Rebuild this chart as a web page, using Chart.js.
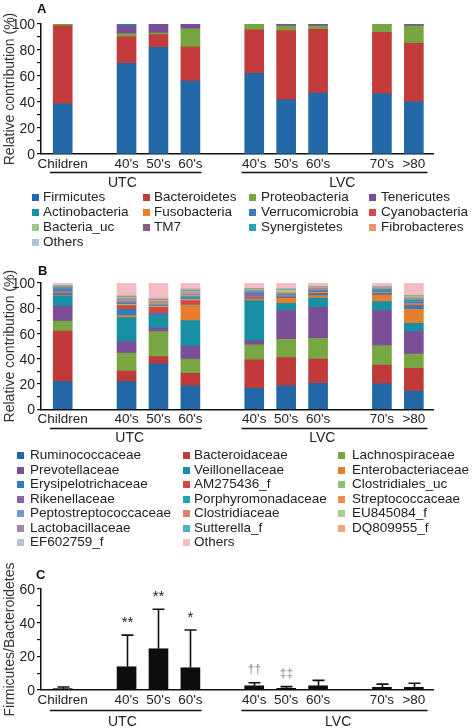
<!DOCTYPE html>
<html>
<head>
<meta charset="utf-8">
<script src="https://cdn.jsdelivr.net/npm/chart.js@4/dist/chart.umd.min.js"></script>
<style>
  body { margin: 0; width: 472px; height: 728px; position: relative; background: #fff; overflow: hidden;
         font-family: 'Liberation Sans', Arial, Helvetica, sans-serif; color: #222; }
  canvas { position: absolute; left: 0; }
  .panel { position: absolute; font-weight: bold; font-size: 13px; color: #111; z-index: 3; }
  .leg { position: absolute; font-size: 13.5px; line-height: 18px; white-space: nowrap; }
  .leg i { position: absolute; width: 7px; height: 7px; top: 6px; }
  .ytick { position: absolute; left: 0; font-size: 14px; line-height: 18px; text-align: right; color: #222; z-index: 5; }
</style>
</head>
<body>
<canvas id="chartA" width="472" height="192" style="top:0"></canvas>
<canvas id="chartB" width="472" height="192" style="top:255px"></canvas>
<canvas id="chartC" width="472" height="168" style="top:560px"></canvas>
<div class="panel" style="left:37px;top:1px">A</div>
<div class="panel" style="left:38px;top:263px">B</div>
<div class="panel" style="left:36px;top:567px">C</div>
<div id="legA"></div>
<div id="legB"></div>
<div id="yticks"></div>
<script>
// categories (empty strings are the spacer slots between groups)
const xLabels = ['Children', '', "40's", "50's", "60's", '', "40's", "50's", "60's", '', "70's", '>80'];
const groupNames = ['UTC', 'LVC'];
const groupSpans = [[-0.4, 4.35], [5.6, 11.43]];

// Panel A: phylum level (%)
const firmicutes      = [38.6, null, 69.7, 82.0, 56.0, null, 62.0, 41.6, 46.8, null, 46.3, 40.1];
const bacteroidetes   = [59.9, null, 20.5,  9.8, 26.3, null, 33.6, 53.3, 49.1, null, 47.3, 45.0];
const proteobacteria  = [ 1.5, null,  2.3,  1.3, 14.1, null,  4.4,  3.6,  2.6, null,  6.4, 13.4];
const tenericutes     = [ 0.0, null,  6.0,  6.9,  3.6, null,  0.0,  1.5,  1.5, null,  0.0,  1.0];
const actinobacteria  = [ 0.0, null,  0.5,  0.0,  0.0, null,  0.0,  0.0,  0.0, null,  0.0,  0.0];
const fusobacteria    = [ 0.0, null,  0.0,  0.0,  0.0, null,  0.0,  0.0,  0.0, null,  0.0,  0.0];
const verrucomicrobia = [ 0.0, null,  1.0,  0.0,  0.0, null,  0.0,  0.0,  0.0, null,  0.0,  0.0];
const cyanobacteria   = [ 0.0, null,  0.0,  0.0,  0.0, null,  0.0,  0.0,  0.0, null,  0.0,  0.0];
const bacteriaUc      = [ 0.0, null,  0.0,  0.0,  0.0, null,  0.0,  0.0,  0.0, null,  0.0,  0.0];
const tm7             = [ 0.0, null,  0.0,  0.0,  0.0, null,  0.0,  0.0,  0.0, null,  0.0,  0.0];
const synergistetes   = [ 0.0, null,  0.0,  0.0,  0.0, null,  0.0,  0.0,  0.0, null,  0.0,  0.0];
const fibrobacteres   = [ 0.0, null,  0.0,  0.0,  0.0, null,  0.0,  0.0,  0.0, null,  0.0,  0.0];
const phylaOthers     = [ 0.0, null,  0.0,  0.0,  0.0, null,  0.0,  0.0,  0.0, null,  0.0,  0.5];

const phylaNames = ['Firmicutes', 'Bacteroidetes', 'Proteobacteria', 'Tenericutes', 'Actinobacteria',
  'Fusobacteria', 'Verrucomicrobia', 'Cyanobacteria', 'Bacteria_uc', 'TM7', 'Synergistetes', 'Fibrobacteres', 'Others'];
const phylaValues = [firmicutes, bacteroidetes, proteobacteria, tenericutes, actinobacteria, fusobacteria,
  verrucomicrobia, cyanobacteria, bacteriaUc, tm7, synergistetes, fibrobacteres, phylaOthers];
const phylaColors = ['#2369a8', '#c23c3b', '#76a541', '#7a4e96', '#1a90a6', '#e7812f',
  '#3a7db6', '#d44a48', '#9cc68a', '#8a5b8c', '#2aa3ba', '#ef946a', '#a9c3d6'];

// Panel B: family level (%)
const ruminococcaceae     = [21.9, null, 21.9, 36.1, 18.5, null, 16.6, 18.5, 20.6, null, 20.1, 14.5];
const bacteroidaceae      = [40.1, null,  8.4,  5.6, 10.0, null, 22.5, 22.4, 19.2, null, 15.0, 18.0];
const lachnospiraceae     = [ 7.9, null, 14.3, 19.8, 11.3, null, 11.9, 14.5, 16.4, null, 15.3, 11.3];
const prevotellaceae      = [11.9, null,  9.0,  3.1, 10.3, null,  3.4, 22.7, 24.5, null, 27.7, 17.7];
const veillonellaceae     = [ 7.9, null, 19.0,  8.8, 20.1, null, 31.4,  5.9,  7.3, null,  7.2,  6.6];
const enterobacteriaceae  = [ 0.5, null,  1.6,  0.3, 12.4, null,  1.6,  3.9,  2.0, null,  5.2, 11.1];
const erysipelotrichaceae = [ 1.5, null,  5.0,  2.3,  0.4, null,  0.6,  0.8,  1.0, null,  1.0,  2.5];
const am275436f           = [ 0.6, null,  2.9,  4.8,  3.0, null,  0.4,  0.5,  0.8, null,  0.6,  1.0];
const clostridialesUc     = [ 0.5, null,  1.0,  0.8,  1.0, null,  0.5,  0.7,  0.6, null,  0.6,  0.8];
const rikenellaceae       = [ 2.0, null,  0.8,  0.6,  1.0, null,  3.0,  0.8,  1.2, null,  0.8,  1.2];
const porphyromonadaceae  = [ 1.5, null,  1.2,  0.5,  1.2, null,  1.2,  0.5,  0.8, null,  1.4,  2.0];
const streptococcaceae    = [ 0.3, null,  1.0,  1.2,  1.0, null,  0.4,  0.4,  0.5, null,  0.5,  0.6];
const peptostreptococcaceae = [0.4, null, 1.0,  0.8,  1.5, null,  0.5,  0.4,  0.6, null,  0.5,  0.6];
const clostridiaceae      = [ 0.3, null,  0.8,  1.0,  0.8, null,  0.3,  0.4,  0.5, null,  0.3,  0.3];
const eu845084f           = [ 0.2, null,  0.6,  0.5,  0.6, null,  0.5,  2.0,  0.4, null,  0.3,  1.0];
const lactobacillaceae    = [ 0.2, null,  0.6,  0.7,  0.8, null,  0.4,  0.3,  0.3, null,  0.2,  0.4];
const sutterellaF         = [ 0.3, null,  0.4,  0.3,  0.5, null,  0.3,  0.4,  0.2, null,  0.2,  0.3];
const dq809955f           = [ 0.1, null,  0.5,  0.4,  0.7, null,  0.2,  0.3,  0.2, null,  0.1,  0.2];
const ef602759f           = [ 0.2, null,  0.5,  0.3,  0.7, null,  0.1,  0.4,  0.2, null,  0.1,  0.4];
const familyOthers        = [ 1.7, null,  9.5, 12.1,  4.2, null,  4.2,  4.2,  2.7, null,  2.9,  9.5];

const familyNames = ['Ruminococcaceae', 'Bacteroidaceae', 'Lachnospiraceae', 'Prevotellaceae', 'Veillonellaceae',
  'Enterobacteriaceae', 'Erysipelotrichaceae', 'AM275436_f', 'Clostridiales_uc', 'Rikenellaceae',
  'Porphyromonadaceae', 'Streptococcaceae', 'Peptostreptococcaceae', 'Clostridiaceae', 'EU845084_f',
  'Lactobacillaceae', 'Sutterella_f', 'DQ809955_f', 'EF602759_f', 'Others'];
const familyValues = [ruminococcaceae, bacteroidaceae, lachnospiraceae, prevotellaceae, veillonellaceae,
  enterobacteriaceae, erysipelotrichaceae, am275436f, clostridialesUc, rikenellaceae, porphyromonadaceae,
  streptococcaceae, peptostreptococcaceae, clostridiaceae, eu845084f, lactobacillaceae, sutterellaF,
  dq809955f, ef602759f, familyOthers];
const familyColors = ['#2268a7', '#c13a3a', '#77a643', '#7a4f97', '#178fa4', '#e67e2d', '#2f7dbb', '#d8473f',
  '#8dbf74', '#8a64a8', '#22a2b6', '#ee8a52', '#6f9dcc', '#e08073', '#a7cc8b', '#9c8ba5', '#4bb5c8',
  '#f2a37d', '#b1c5d7', '#f3bcc3'];

// Panel C: Firmicutes/Bacteroidetes ratio, mean and upper SD
const fbRatio = [0.8, null, 13.8, 24.5, 13.2, null, 2.5, 1.0, 2.5, null, 1.6, 1.6];
const fbSD    = [1.0, null, 18.8, 23.5, 22.4, null, 1.8, 1.0, 3.2, null, 1.9, 2.4];
const fbSig   = ['', '', '**', '**', '*', '', '\u2020\u2020', '\u2021\u2021', '', '', '', ''];

const FONT = "'Liberation Sans', Arial, Helvetica, sans-serif";
Chart.defaults.font.family = FONT;
Chart.defaults.font.size = 13.5;
Chart.defaults.color = '#222';

const toPoints = arr => arr.map((v, i) => ({ x: i, y: v })).filter(p => p.y !== null);

// underline + group name below the x axis
const groupPlugin = {
  id: 'groups',
  afterDraw(chart, args, opts) {
    const { ctx } = chart;
    const xs = chart.scales.x;
    const bottom = chart.chartArea.bottom;
    ctx.save();
    ctx.strokeStyle = '#111';
    ctx.lineWidth = 1.3;
    ctx.fillStyle = '#222';
    ctx.font = '14px ' + FONT;
    ctx.textAlign = 'center';
    ctx.textBaseline = 'middle';
    groupSpans.forEach((sp, g) => {
      const y = Math.round(bottom + opts.lineOffset) + 0.5;
      ctx.beginPath();
      ctx.moveTo(xs.getPixelForValue(sp[0]), y);
      ctx.lineTo(xs.getPixelForValue(sp[1]), y);
      ctx.stroke();
      ctx.fillText(groupNames[g], xs.getPixelForValue(opts.labelAt[g]), bottom + opts.textOffset);
    });
    ctx.restore();
  }
};

function makeOptions(canvasH, top, bottom, yMax, yTitle, groupOpts) {
  const yTicks = [];
  for (let v = 0; v <= yMax; v += 10) yTicks.push({ value: v });
  return {
    responsive: false,
    animation: false,
    layout: { padding: { top: top, right: 39, left: 0, bottom: 0 } },
    plugins: { legend: { display: false }, tooltip: { enabled: false }, groups: groupOpts },
    scales: {
      x: {
        type: 'linear', stacked: true, min: -0.68, max: 11.6, offset: false,
        afterBuildTicks: s => { s.ticks = xLabels.map((l, i) => ({ value: i })); },
        afterFit: s => { s.height = canvasH - bottom; s.paddingLeft = 0; s.paddingRight = 0; },
        ticks: { callback: v => xLabels[v] ?? '', maxRotation: 0, autoSkip: false, padding: 2, color: '#222' },
        grid: { display: false, drawTicks: false },
        border: { color: '#111', width: 1.5 }
      },
      y: {
        stacked: true, min: 0, max: yMax,
        afterBuildTicks: s => { s.ticks = yTicks.slice(); },
        afterFit: s => { s.width = 41; s.paddingTop = 0; s.paddingBottom = 0; },
        // labels are placed as HTML from this scale's ticks (see addYLabels)
        ticks: { callback: v => (v % 20 === 0 ? String(v) : ''), autoSkip: false, padding: 2, font: { size: 14 }, color: 'rgba(0,0,0,0)' },
        grid: { drawOnChartArea: false, drawTicks: true, tickLength: 4, color: '#111', lineWidth: 1.2 },
        border: { color: '#111', width: 1.5 },
        title: { display: true, text: yTitle, font: { size: 14 }, color: '#333', padding: { top: 2, bottom: 0 } }
      }
    }
  };
}

// series that are zero everywhere only appear in the legend
function stackDatasets(names, values, colors) {
  return names.map((n, k) => ({
    label: n,
    data: toPoints(values[k]),
    backgroundColor: colors[k],
    borderWidth: 0,
    barThickness: 19
  })).filter(ds => ds.data.some(p => p.y > 0));
}

const chartA = new Chart(document.getElementById('chartA'), {
  type: 'bar',
  data: { datasets: stackDatasets(phylaNames, phylaValues, phylaColors) },
  options: makeOptions(192, 24, 154, 100, 'Relative contribution (%)',
    { lineOffset: 18, textOffset: 29, labelAt: [1.87, 8.76] }),
  plugins: [groupPlugin]
});

const chartB = new Chart(document.getElementById('chartB'), {
  type: 'bar',
  data: { datasets: stackDatasets(familyNames, familyValues, familyColors) },
  options: makeOptions(192, 28, 154.3, 100, 'Relative contribution (%)',
    { lineOffset: 18.4, textOffset: 29, labelAt: [2.1, 8.13] }),
  plugins: [groupPlugin]
});

// error bars (upper only) and significance marks
const errorPlugin = {
  id: 'errs',
  afterDatasetsDraw(chart) {
    const { ctx } = chart;
    const ys = chart.scales.y;
    const meta = chart.getDatasetMeta(0);
    const pts = chart.data.datasets[0].data;
    ctx.save();
    ctx.strokeStyle = '#111';
    ctx.lineWidth = 1.6;
    ctx.textAlign = 'center';
    ctx.textBaseline = 'alphabetic';
    meta.data.forEach((el, j) => {
      const i = pts[j].x;
      const x = Math.round(el.x) + 0.5;
      const yTop = ys.getPixelForValue(fbRatio[i] + fbSD[i]);
      ctx.beginPath();
      ctx.moveTo(x, el.y);
      ctx.lineTo(x, yTop);
      ctx.moveTo(x - 6, yTop);
      ctx.lineTo(x + 6, yTop);
      ctx.stroke();
      if (fbSig[i]) {
        const dagger = fbSig[i].indexOf('*') < 0;
        ctx.fillStyle = dagger ? '#888' : '#222';
        ctx.font = (dagger ? '12px ' : '15px ') + FONT;
        ctx.fillText(fbSig[i], x, yTop - (dagger ? 10 : 8));
      }
    });
    ctx.restore();
  }
};

const chartC = new Chart(document.getElementById('chartC'), {
  type: 'bar',
  data: { datasets: [{ label: 'Firmicutes/Bacteroidetes', data: toPoints(fbRatio), backgroundColor: '#0d0d0d', borderWidth: 0, barThickness: 19 }] },
  options: makeOptions(168, 29, 130, 60, 'Firmicutes/Bacteroidetes',
    { lineOffset: 20, textOffset: 31.7, labelAt: [1.87, 8.63] }),
  plugins: [groupPlugin, errorPlugin]
});

// y tick labels as HTML, positioned from each chart's own y scale
function addYLabels(chart) {
  const box = document.getElementById('yticks');
  const ys = chart.scales.y;
  const top = chart.canvas.offsetTop;
  ys.ticks.forEach(t => {
    if (t.value % 20 !== 0) return;
    const d = document.createElement('div');
    d.className = 'ytick';
    d.style.width = (ys.right - 6) + 'px';
    d.style.top = (top + ys.getPixelForValue(t.value) - 9) + 'px';
    d.textContent = String(t.value);
    box.appendChild(d);
  });
}
[chartA, chartB, chartC].forEach(addYLabels);

// HTML legends laid out in fixed columns, row-major like the figure
function buildLegend(id, names, colors, markerX, textX, rowY, rowStep) {
  const box = document.getElementById(id);
  const cols = markerX.length;
  names.forEach((n, k) => {
    const c = k % cols, r = Math.floor(k / cols);
    const y = rowY + r * rowStep - 9;
    const item = document.createElement('div');
    item.className = 'leg';
    item.style.left = textX[c] + 'px';
    item.style.top = y + 'px';
    item.textContent = n;
    const m = document.createElement('i');
    m.style.background = colors[k];
    m.style.left = (markerX[c] - textX[c]) + 'px';
    item.appendChild(m);
    box.appendChild(item);
  });
}
buildLegend('legA', phylaNames, phylaColors, [32, 143, 249, 369], [43, 154, 261, 381], 197, 15);
buildLegend('legB', familyNames, familyColors, [17, 183, 338], [30, 194, 352], 455, 14.5);
</script>
</body>
</html>
